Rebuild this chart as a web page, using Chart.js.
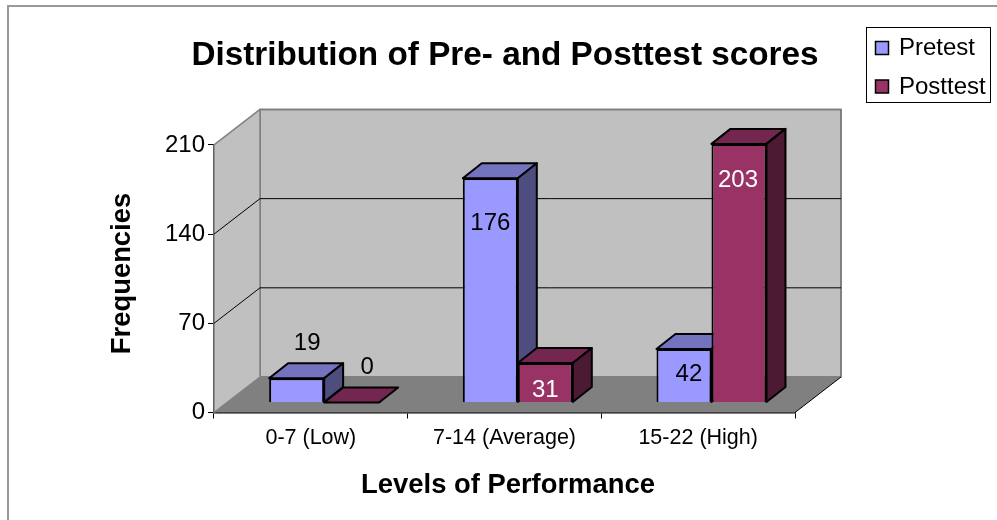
<!DOCTYPE html>
<html>
<head>
<meta charset="utf-8">
<title>Distribution of Pre- and Posttest scores</title>
<script src="https://cdn.jsdelivr.net/npm/chart.js@4"></script>
<style>
    html, body { margin: 0; padding: 0; background: #fff; }
    canvas { display: block; }
</style>
</head>
<body>
<canvas id="score-chart" width="997" height="520"></canvas>
<script>
const categories = ['0-7 (Low)', '7-14 (Average)', '15-22 (High)'];
const seriesNames = ['Pretest', 'Posttest'];
const pretest = [19, 176, 42];
const posttest = [0, 31, 203];
const yTicks = [0, 70, 140, 210];

// Hand-placed value labels, [dx, dy] from the top centre of each front face
const labelOffsets = [
    [[10.5, -35], [0, 45], [5, 25]],
    [[15.5, -35], [0, 27], [-1, 36.5]]
];
const labelColors = [
    ['#000', '#000', '#000'],
    ['#000', '#fff', '#fff']
];

const FONT = '"Liberation Sans", Arial, sans-serif';
const faces = [
    { front: '#9999ff', top: '#7373bf', side: '#4d4d80' },
    { front: '#993366', top: '#732650', side: '#4d1a33' }
];

// Box depth of the floor and of the bars, bars stand in the middle of the floor
const floorDepth = { x: 46, y: -35.5 };
const barDepth = { x: 19, y: -15 };
const barShift = { x: 13.3, y: -10 };

function fillPoly(ctx, points, fill, stroke, lineWidth) {
    ctx.beginPath();
    points.forEach(([x, y], i) => i ? ctx.lineTo(x, y) : ctx.moveTo(x, y));
    ctx.closePath();
    ctx.fillStyle = fill;
    ctx.fill();
    if (stroke) {
        ctx.strokeStyle = stroke;
        ctx.lineWidth = lineWidth;
        ctx.lineJoin = 'round';
        ctx.stroke();
    }
}

// The title is wider than the plot, give it room and centre it over the room
const titlePlugin = {
    id: 'wideTitle',
    afterLayout(chart) {
        chart.titleBlock.left = 180;
        chart.titleBlock.right = 830;
    }
};

// Frame, back wall, side wall, floor and gridlines behind the bars
const roomPlugin = {
    id: 'room',
    beforeDatasetsDraw(chart) {
        const { ctx, chartArea: { left, right, top, bottom }, scales: { y } } = chart;
        const dx = floorDepth.x, dy = floorDepth.y;
        ctx.save();

        ctx.strokeStyle = '#999999';
        ctx.lineWidth = 2;
        ctx.beginPath();
        ctx.moveTo(8, 520);
        ctx.lineTo(8, 6);
        ctx.lineTo(997, 6);
        ctx.stroke();

        fillPoly(ctx, [[left + dx, top + dy], [right + dx, top + dy], [right + dx, bottom + dy], [left + dx, bottom + dy]], '#c0c0c0', '#808080', 2);
        fillPoly(ctx, [[left, top], [left + dx, top + dy], [left + dx, bottom + dy], [left, bottom]], '#c0c0c0', '#808080', 1.5);
        fillPoly(ctx, [[left, bottom], [left + dx, bottom + dy], [right + dx, bottom + dy], [right, bottom]], '#808080');

        ctx.strokeStyle = '#000';
        ctx.lineWidth = 1;
        yTicks.slice(1, -1).forEach(value => {
            const py = y.getPixelForValue(value);
            ctx.beginPath();
            ctx.moveTo(left, py);
            ctx.lineTo(left + dx, py + dy);
            ctx.lineTo(right + dx, py + dy);
            ctx.stroke();
        });

        // Front edge of the floor stops at the right corner and turns back
        ctx.beginPath();
        ctx.moveTo(right, bottom);
        ctx.lineTo(right + dx, bottom + dy);
        ctx.stroke();
        ctx.restore();
    }
};

// Chart.js paints datasets last to first, the boxes need first to last so the
// later series covers the side of the earlier one
const boxPlugin = {
    id: 'boxes',
    beforeDatasetDraw() {
        return false;
    },
    afterDatasetsDraw(chart) {
        const { ctx } = chart;
        ctx.save();
        ctx.translate(barShift.x, barShift.y);
        chart.data.datasets.forEach((dataset, index) => {
            chart.getDatasetMeta(index).data.forEach(bar => {
                const l = bar.x - bar.width / 2, r = bar.x + bar.width / 2;
                const t = bar.y, b = bar.base;
                const dx = barDepth.x, dy = barDepth.y;
                fillPoly(ctx, [[l, t], [l + dx, t + dy], [r + dx, t + dy], [r, t]], faces[index].top, '#000', 2);
                if (b > t) {
                    fillPoly(ctx, [[r, t], [r + dx, t + dy], [r + dx, b + dy], [r, b]], faces[index].side, '#000', 2);
                }
                bar.draw(ctx);
            });
        });
        ctx.restore();
    }
};

// Value labels, axis titles and the boxed legend
const textPlugin = {
    id: 'chartText',
    afterDatasetsDraw(chart) {
        const { ctx } = chart;
        ctx.save();
        ctx.textAlign = 'center';
        ctx.textBaseline = 'middle';
        ctx.font = `24px ${FONT}`;
        chart.data.datasets.forEach((dataset, di) => {
            chart.getDatasetMeta(di).data.forEach((bar, i) => {
                const [ox, oy] = labelOffsets[di][i];
                ctx.fillStyle = labelColors[di][i];
                ctx.fillText(dataset.data[i], bar.x + barShift.x + ox, bar.y + barShift.y + oy);
            });
        });

        ctx.fillStyle = '#000';
        ctx.font = `bold 27.4px ${FONT}`;
        ctx.fillText('Levels of Performance', 508, 485);
        ctx.translate(122, 273.5);
        ctx.rotate(-Math.PI / 2);
        ctx.fillText('Frequencies', 0, 0);
        ctx.restore();

        ctx.save();
        ctx.fillStyle = '#fff';
        ctx.strokeStyle = '#000';
        ctx.lineWidth = 1;
        ctx.fillRect(866.5, 27.5, 124, 75);
        ctx.strokeRect(866.5, 27.5, 124, 75);
        ctx.textBaseline = 'middle';
        ctx.font = `24px ${FONT}`;
        seriesNames.forEach((name, i) => {
            const cy = 48 + i * 38.5;
            ctx.fillStyle = faces[i].front;
            ctx.fillRect(875.5, cy - 6.5, 13, 13);
            ctx.lineWidth = 1.5;
            ctx.strokeRect(875.5, cy - 6.5, 13, 13);
            ctx.fillStyle = '#000';
            ctx.fillText(name, 899, cy + 0.5);
        });
        ctx.restore();
    }
};

new Chart(document.getElementById('score-chart'), {
    type: 'bar',
    data: {
        labels: categories,
        datasets: [
            { label: seriesNames[0], data: pretest, backgroundColor: faces[0].front, borderColor: '#000', borderWidth: 2 },
            { label: seriesNames[1], data: posttest, backgroundColor: faces[1].front, borderColor: '#000', borderWidth: 2 }
        ]
    },
    options: {
        responsive: false,
        animation: false,
        events: [],
        layout: { padding: { left: 160, right: 202, top: 0, bottom: 0 } },
        categoryPercentage: 0.568,
        barPercentage: 1,
        plugins: {
            legend: { display: false },
            tooltip: { enabled: false },
            title: {
                display: true,
                fullSize: false,
                text: 'Distribution of Pre- and Posttest scores',
                color: '#000',
                font: { family: FONT, size: 33.3, weight: 'bold', lineHeight: 1.2 },
                padding: { top: 36, bottom: 69 }
            }
        },
        scales: {
            x: {
                grid: { display: true, drawOnChartArea: false, drawTicks: true, tickLength: 6, color: '#000', offset: true },
                border: { color: '#000', width: 1.5 },
                ticks: { color: '#000', font: { family: FONT, size: 21.5 }, padding: 7, maxRotation: 0 },
                afterFit(scale) { scale.height = 107.5; }
            },
            y: {
                min: 0,
                max: 210,
                grid: { display: true, drawOnChartArea: false, drawTicks: true, tickLength: 6, color: '#000' },
                border: { color: '#000', width: 1.5 },
                ticks: { stepSize: 70, color: '#000', font: { family: FONT, size: 24 }, padding: 3 },
                afterFit(scale) { scale.width = 54; }
            }
        }
    },
    plugins: [titlePlugin, roomPlugin, boxPlugin, textPlugin]
});
</script>
</body>
</html>
